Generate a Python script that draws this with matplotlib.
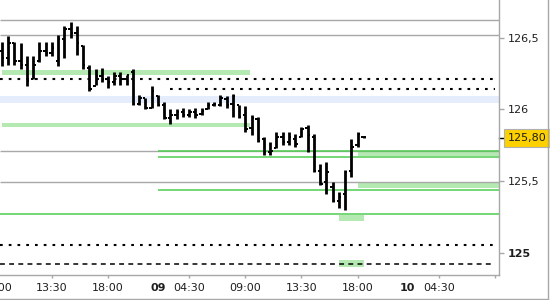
import numpy as np
import matplotlib
matplotlib.use("Agg")
import matplotlib.pyplot as plt
import matplotlib.transforms as mtransforms
from matplotlib.lines import Line2D

# 30-minute OHLC bars (bar index 1 = 09:30 on day 08)
highs = [126.47, 126.51, 126.47, 126.46, 126.37, 126.37, 126.47, 126.47, 126.47, 126.52,
         126.58, 126.61, 126.58, 126.45, 126.31, 126.28, 126.29, 126.23, 126.26, 126.26,
         126.24, 126.28, 126.10, 126.08, 126.16, 126.10, 126.05, 126.00, 126.00, 126.01,
         126.00, 126.01, 126.01, 126.05, 126.05, 126.10, 126.09, 126.11, 126.03, 126.02,
         125.96, 125.95, 125.81, 125.77, 125.84, 125.84, 125.84, 125.83, 125.88, 125.89,
         125.83, 125.62, 125.63, 125.49, 125.42, 125.58, 125.79, 125.84, 125.81]
lows = [126.30, 126.31, 126.31, 126.28, 126.16, 126.21, 126.33, 126.37, 126.37, 126.30,
        126.36, 126.50, 126.38, 126.28, 126.13, 126.17, 126.19, 126.15, 126.17, 126.17,
        126.17, 126.03, 126.03, 126.00, 126.01, 126.02, 125.93, 125.90, 125.93, 125.95,
        125.95, 125.94, 125.96, 126.00, 126.02, 126.02, 126.01, 125.95, 125.94, 125.84,
        125.82, 125.77, 125.68, 125.68, 125.73, 125.75, 125.75, 125.74, 125.81, 125.70,
        125.56, 125.47, 125.41, 125.35, 125.31, 125.30, 125.53, 125.74, 125.80]
opens = [126.41, 126.36, 126.46, 126.34, 126.31, 126.21, 126.34, 126.41, 126.39, 126.34,
         126.49, 126.56, 126.53, 126.44, 126.29, 126.16, 126.23, 126.21, 126.19, 126.23,
         126.21, 126.26, 126.04, 126.08, 126.01, 126.09, 126.03, 125.94, 125.96, 125.98,
         125.96, 125.98, 125.97, 126.00, 126.03, 126.03, 126.07, 126.04, 126.03, 125.96,
         125.87, 125.93, 125.79, 125.70, 125.73, 125.81, 125.77, 125.79, 125.81, 125.87,
         125.81, 125.57, 125.49, 125.46, 125.36, 125.41, 125.57, 125.75, 125.81]
closes = [126.36, 126.46, 126.34, 126.31, 126.20, 126.31, 126.41, 126.39, 126.43, 126.49,
          126.56, 126.53, 126.46, 126.31, 126.14, 126.23, 126.21, 126.19, 126.23, 126.21,
          126.24, 126.04, 126.08, 126.01, 126.13, 126.03, 125.94, 125.96, 125.98, 125.96,
          125.98, 125.96, 125.99, 126.03, 126.04, 126.08, 126.03, 126.09, 125.95, 125.86,
          125.94, 125.78, 125.70, 125.71, 125.81, 125.77, 125.81, 125.76, 125.86, 125.82,
          125.57, 125.48, 125.56, 125.36, 125.39, 125.56, 125.74, 125.83, 125.81]
current_price = 125.80

# axis labels
xtick_pos = [9, 18, 31, 40, 49, 58, 71, 80]
xtick_lab = ["13:30", "18:00", "04:30", "09:00", "13:30", "18:00", "04:30", ""]
day_pos = [26, 66]
day_lab = ["09", "10"]
ytick_pos = [125.0, 125.5, 126.0, 126.5]
ytick_lab = ["125", "125,5", "126", "126,5"]

# levels drawn on the chart
gray_levels = [126.62, 126.52, 125.71, 125.49]
green_lines = [(125.711, 26), (125.669, 26), (125.437, 26), (125.269, 0)]   # price, start
green_zones = [(126.240, 126.275, 1.0, 40.8), (125.876, 125.904, 1.0, 40.8),
               (125.674, 125.709, 58.0, 81.0), (125.451, 125.486, 58.0, 81.0),
               (125.220, 125.262, 55.0, 59.0), (124.900, 124.948, 55.0, 59.0)]
blue_zone = (126.044, 126.093)
dotted_lines = [(126.211, 0), (126.142, 28), (125.053, 0)]
dashed_lines = [(124.920, 0)]

plt.rcParams['font.family'] = ['DejaVu Sans']
fig = plt.figure(figsize=(5.5, 3.0), dpi=100)
ax = fig.add_axes([0.0, 25 / 300, 499 / 550, 275 / 300])
xmin, xmax = 0.69, 80.66
ax.set_xlim(xmin, xmax)
ax.set_ylim(124.844, 126.763)

# zones & levels
ax.fill_between([xmin, xmax], blue_zone[0], blue_zone[1], color="#e5ecfc", lw=0, zorder=1)
for lo, hi, x0, x1 in green_zones:
    ax.fill_between([x0, x1], lo, hi, color="#b4eab1", lw=0, zorder=1)
for lvl in gray_levels:
    ax.hlines(lvl, xmin, xmax, color="#a8a8a8", lw=1.0, zorder=2)
for lvl, x0 in green_lines:
    ax.hlines(lvl, max(x0, xmin), xmax, color="#4fcb4f", lw=1.1, zorder=2)
for lvl, x0 in dotted_lines:
    ax.plot([max(x0, xmin), 80.0], [lvl, lvl], color="black", lw=1.5,
            linestyle=(0, (1.3, 2.9)), dash_capstyle="butt", zorder=2)
for lvl, x0 in dashed_lines:
    ax.plot([max(x0, xmin), 80.0], [lvl, lvl], color="black", lw=1.1,
            linestyle=(0, (3.2, 2.8)), dash_capstyle="butt", zorder=2)

# OHLC bars
idx = np.arange(1, len(highs) + 1)
ax.vlines(idx, lows, highs, color="black", lw=2.0, zorder=4)
ax.hlines(opens, idx - 0.38, idx, color="black", lw=1.4, zorder=4)
ax.hlines(closes, idx, idx + 0.38, color="black", lw=1.4, zorder=4)

# spines
for s in ["top", "left"]:
    ax.spines[s].set_visible(False)
for s in ["right", "bottom"]:
    ax.spines[s].set_color("#a8a8a8")
    ax.spines[s].set_linewidth(1.0)

txt = "#1e1e1e"
ax.yaxis.tick_right()
ax.set_yticks(ytick_pos, ytick_lab)
ax.tick_params(axis="y", length=3.5, width=1, color="#a8a8a8", pad=3,
               labelsize=8, labelcolor=txt)
ax.get_yticklabels()[0].set_fontweight("bold")

ax.set_xticks(xtick_pos, xtick_lab)
ax.tick_params(axis="x", length=2.5, width=1, color="#a8a8a8", pad=3,
               labelsize=8, labelcolor=txt)
ax.set_xticks(day_pos, day_lab, minor=True)
ax.tick_params(axis="x", which="minor", length=0, pad=5.5, labelsize=8, labelcolor=txt)
for lab in ax.get_xticklabels(minor=True):
    lab.set_fontweight("bold")

# first label partly off the left edge (as in the reference)
tr = mtransforms.blended_transform_factory(ax.transData, ax.transAxes)
ax.text(0, 0.0, "09:00", transform=tr + mtransforms.ScaledTranslation(0, -5.5 / 72, fig.dpi_scale_trans),
        ha="center", va="top", fontsize=8, color=txt, clip_on=False)

# current price marker
trp = mtransforms.blended_transform_factory(ax.transAxes, ax.transData)
ax.plot([1.0, 1.013], [current_price, current_price], color="black", lw=1,
        transform=trp, clip_on=False)
ax.text(1.017, current_price, "125,80", transform=trp, ha="left", va="center",
        fontsize=8, color=txt, clip_on=False,
        bbox=dict(boxstyle="square,pad=0.32", fc="#fdd000", ec="#b0b0b0", lw=0.8))

# outer frame
fig.add_artist(Line2D([547.5 / 550, 547.5 / 550], [1.5 / 300, 1.0], color="#a8a8a8", lw=1))
fig.add_artist(Line2D([0, 547.5 / 550], [1.5 / 300, 1.5 / 300], color="#a8a8a8", lw=1))

fig.savefig("out.png", dpi=100, facecolor="white")
